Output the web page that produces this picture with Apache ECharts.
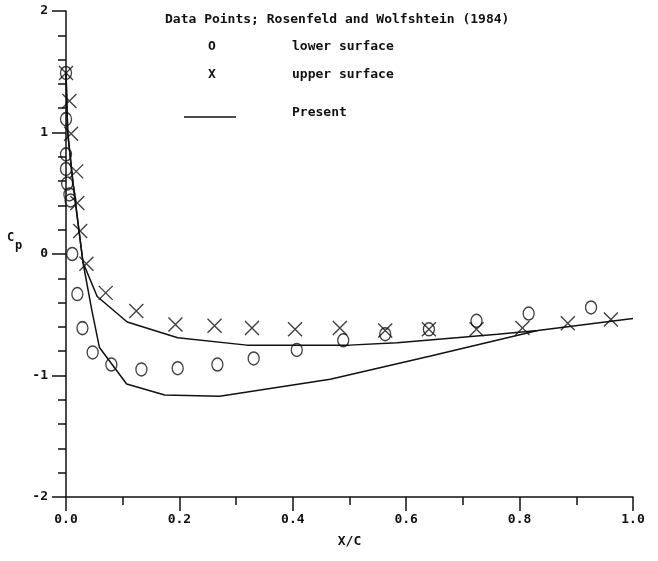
<!DOCTYPE html>
<html>
<head>
<meta charset="utf-8">
<script src="https://cdn.jsdelivr.net/npm/echarts@6/dist/echarts.min.js"></script>
<style>html,body{margin:0;padding:0;background:#fff}#c{width:658px;height:561px}</style>
</head>
<body>
<div id="c"></div>
<script>
// Data (x/c, Cp)
const lowerX = [0.0, 0.0, 0.0, 0.0, 0.002, 0.006, 0.008, 0.011, 0.02, 0.029, 0.047, 0.08, 0.133, 0.197, 0.267, 0.331, 0.407, 0.489, 0.563, 0.64, 0.724, 0.816, 0.926];
const lowerY = [1.49, 1.11, 0.82, 0.70, 0.58, 0.49, 0.44, 0.0, -0.33, -0.61, -0.81, -0.91, -0.95, -0.94, -0.91, -0.86, -0.79, -0.71, -0.66, -0.62, -0.55, -0.49, -0.44];
const upperX = [0.0, 0.006, 0.009, 0.018, 0.02, 0.025, 0.036, 0.07, 0.124, 0.193, 0.262, 0.328, 0.404, 0.483, 0.563, 0.64, 0.724, 0.805, 0.885, 0.961];
const upperY = [1.49, 1.26, 0.99, 0.68, 0.42, 0.19, -0.08, -0.32, -0.47, -0.58, -0.59, -0.61, -0.62, -0.61, -0.63, -0.62, -0.62, -0.61, -0.57, -0.54];
const presUpperX = [0.0, 0.003, 0.012, 0.02, 0.03, 0.055, 0.108, 0.197, 0.319, 0.5, 0.584, 0.761, 0.832, 1.0];
const presUpperY = [1.5, 1.0, 0.6, 0.3, -0.07, -0.35, -0.56, -0.69, -0.75, -0.75, -0.73, -0.66, -0.63, -0.53];
const presLowerX = [0.0, 0.003, 0.012, 0.02, 0.03, 0.045, 0.059, 0.107, 0.174, 0.271, 0.466, 0.643, 0.832];
const presLowerY = [1.5, 1.0, 0.6, 0.3, -0.07, -0.45, -0.77, -1.07, -1.16, -1.17, -1.03, -0.84, -0.63];
const xTicks = ['0.0', '0.2', '0.4', '0.6', '0.8', '1.0'];
const yTicks = ['-2', '-1', '0', '1', '2'];

const zip = (a, b) => a.map((v, i) => [v, b[i]]);
const FONT = '"DejaVu Sans Mono", monospace';
const INK = '#111';
const crossPath = 'path://M0,0L10,10M10,0L0,10';

const chart = echarts.init(document.getElementById('c'), null, {renderer: 'canvas'});
chart.setOption({
  animation: false,
  backgroundColor: '#fff',
  grid: {left: 66, right: 25, top: 11, bottom: 64},
  xAxis: {
    type: 'value', min: 0, max: 1, interval: 0.2,
    axisLine: {onZero: false, lineStyle: {color: INK, width: 1.5}},
    axisTick: {length: 14, lineStyle: {color: INK, width: 1.5}},
    minorTick: {show: true, splitNumber: 2, length: 8, lineStyle: {color: INK, width: 1.5}},
    splitLine: {show: false},
    axisLabel: {margin: 16, color: INK, fontFamily: FONT, fontWeight: 'bold', fontSize: 13,
      formatter: v => xTicks[Math.round(v / 0.2)]},
    name: 'X/C', nameLocation: 'middle', nameGap: 38,
    nameTextStyle: {color: INK, fontFamily: FONT, fontWeight: 'bold', fontSize: 13}
  },
  yAxis: {
    type: 'value', min: -2, max: 2, interval: 1,
    axisLine: {onZero: false, lineStyle: {color: INK, width: 1.5}},
    axisTick: {length: 14, lineStyle: {color: INK, width: 1.5}},
    minorTick: {show: true, splitNumber: 5, length: 8, lineStyle: {color: INK, width: 1.5}},
    splitLine: {show: false},
    axisLabel: {margin: 18, color: INK, fontFamily: FONT, fontWeight: 'bold', fontSize: 13,
      formatter: v => yTicks[Math.round(v + 2)]}
  },
  series: [
    {type: 'line', data: zip(presUpperX, presUpperY), symbol: 'none', smooth: false,
      lineStyle: {color: INK, width: 1.5}},
    {type: 'line', data: zip(presLowerX, presLowerY), symbol: 'none', smooth: false,
      lineStyle: {color: INK, width: 1.5}},
    {type: 'scatter', data: zip(lowerX, lowerY), symbol: 'circle', symbolSize: [11, 13],
      itemStyle: {color: 'rgba(0,0,0,0)', borderColor: INK, borderWidth: 1.4}},
    {type: 'scatter', data: zip(upperX, upperY), symbol: crossPath, symbolSize: 14,
      itemStyle: {color: 'rgba(0,0,0,0)', borderColor: INK, borderWidth: 1.4}}
  ],
  graphic: [
    {type: 'text', left: 165, top: 13, style: {text: 'Data Points; Rosenfeld and Wolfshtein (1984)', font: 'bold 13px ' + FONT, fill: INK}},
    {type: 'text', left: 208, top: 40, style: {text: 'O', font: 'bold 13px ' + FONT, fill: INK}},
    {type: 'text', left: 292, top: 40, style: {text: 'lower surface', font: 'bold 13px ' + FONT, fill: INK}},
    {type: 'text', left: 208, top: 68, style: {text: 'X', font: 'bold 13px ' + FONT, fill: INK}},
    {type: 'text', left: 292, top: 68, style: {text: 'upper surface', font: 'bold 13px ' + FONT, fill: INK}},
    {type: 'line', shape: {x1: 184, y1: 117, x2: 236, y2: 117}, style: {stroke: INK, lineWidth: 1.5}},
    {type: 'text', left: 292, top: 106, style: {text: 'Present', font: 'bold 13px ' + FONT, fill: INK}},
    {type: 'text', left: 7, top: 232, style: {text: 'C', font: 'bold 12px ' + FONT, fill: INK}},
    {type: 'text', left: 15, top: 240, style: {text: 'p', font: 'bold 12px ' + FONT, fill: INK}}
  ]
});
</script>
</body>
</html>
